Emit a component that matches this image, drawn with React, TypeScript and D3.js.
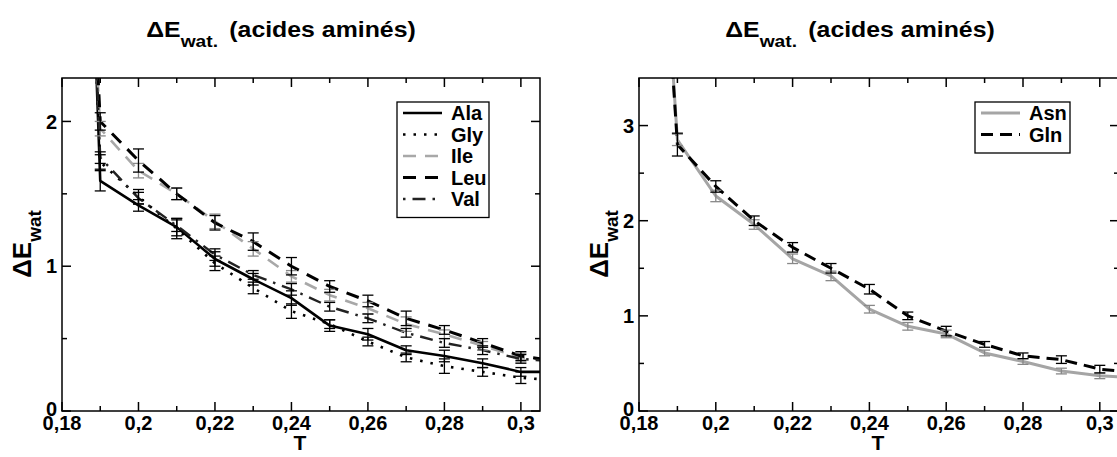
import React from 'react';
import * as d3 from 'd3';

// ---------- data ----------
const T = [0.18, 0.19, 0.2, 0.21, 0.22, 0.23, 0.24, 0.25, 0.26, 0.27, 0.28, 0.29, 0.3, 0.31];

const ala = [9.0, 1.59, 1.42, 1.27, 1.05, 0.91, 0.78, 0.59, 0.53, 0.42, 0.38, 0.33, 0.27, 0.27];
const alaErr = [0, 0.07, 0.04, 0.06, 0.05, 0.04, 0.05, 0.04, 0.04, 0.03, 0.04, 0.03, 0.03, 0];
const gly = [8.0, 1.72, 1.48, 1.26, 1.02, 0.85, 0.69, 0.6, 0.48, 0.37, 0.31, 0.27, 0.23, 0.21];
const glyErr = [0, 0.05, 0.05, 0.07, 0.05, 0.04, 0.05, 0.03, 0.03, 0.03, 0.05, 0.03, 0.04, 0];
const ile = [7.0, 1.95, 1.66, 1.5, 1.31, 1.12, 0.93, 0.8, 0.71, 0.6, 0.53, 0.45, 0.37, 0.35];
const ileErr = [0, 0.05, 0.05, 0.04, 0.05, 0.05, 0.04, 0.04, 0.04, 0.05, 0.03, 0.03, 0.03, 0];
const leu = [7.5, 2.0, 1.73, 1.5, 1.3, 1.17, 1.0, 0.86, 0.76, 0.64, 0.56, 0.47, 0.38, 0.34];
const leuErr = [0, 0.06, 0.08, 0.04, 0.05, 0.06, 0.06, 0.04, 0.04, 0.05, 0.03, 0.03, 0.03, 0];
const val = [8.0, 1.75, 1.47, 1.28, 1.08, 0.94, 0.84, 0.72, 0.64, 0.54, 0.47, 0.42, 0.36, 0.34];
const valErr = [0, 0.04, 0.04, 0.04, 0.04, 0.03, 0.04, 0.03, 0.03, 0.03, 0.03, 0.03, 0.03, 0];

const asn = [9.0, 2.85, 2.26, 1.96, 1.6, 1.42, 1.07, 0.89, 0.81, 0.61, 0.52, 0.42, 0.37, 0.35];
const asnErr = [0, 0.06, 0.06, 0.05, 0.05, 0.05, 0.04, 0.04, 0.04, 0.03, 0.03, 0.03, 0.03, 0];
const gln = [9.0, 2.8, 2.36, 2.0, 1.72, 1.5, 1.28, 1.0, 0.84, 0.7, 0.58, 0.54, 0.44, 0.4];
const glnErr = [0, 0.12, 0.06, 0.05, 0.05, 0.05, 0.05, 0.04, 0.05, 0.03, 0.03, 0.04, 0.04, 0];

const xMajor = [0.18, 0.2, 0.22, 0.24, 0.26, 0.28, 0.3];
const xLabels = ['0,18', '0,2', '0,22', '0,24', '0,26', '0,28', '0,3'];
const xMinor = [0.19, 0.21, 0.23, 0.25, 0.27, 0.29];
const yMajorL = [0, 1, 2];
const yLabelsL = ['0', '1', '2'];
const yMinorL = [0.5, 1.5];
const yMajorR = [0, 1, 2, 3];
const yLabelsR = ['0', '1', '2', '3'];
const yMinorR = [0.5, 1.5, 2.5];

const FONT = '"Liberation Sans", Arial, Helvetica, sans-serif';

type Series = { name: string; v: number[]; e: number[]; color: string; width: number; dash?: string };

const leftSeries: Series[] = [
  { name: 'Ala', v: ala, e: alaErr, color: '#000', width: 2.6 },
  { name: 'Gly', v: gly, e: glyErr, color: '#000', width: 2.6, dash: '2.5,8' },
  { name: 'Ile', v: ile, e: ileErr, color: '#a8a8a8', width: 2.6, dash: '13,9' },
  { name: 'Leu', v: leu, e: leuErr, color: '#000', width: 3, dash: '13,9' },
  { name: 'Val', v: val, e: valErr, color: '#222', width: 2.4, dash: '2.5,7,13,7' },
];
const rightSeries: Series[] = [
  { name: 'Asn', v: asn, e: asnErr, color: '#a5a5a5', width: 3 },
  { name: 'Gln', v: gln, e: glnErr, color: '#000', width: 3, dash: '12,7' },
];

type PanelProps = {
  id: string;
  x0: number; x1: number; y0: number; y1: number;
  xDomain: [number, number];
  yDomain: [number, number];
  yMajor: number[]; yLabels: string[]; yMinor: number[];
  series: Series[];
  legend: { x: number; y: number; w: number; rowH: number };
  titleX: number;
};

function Panel(p: PanelProps) {
  const x = d3.scaleLinear().domain(p.xDomain).range([p.x0, p.x1]);
  const y = d3.scaleLinear().domain(p.yDomain).range([p.y0, p.y1]);
  const line = d3.line<number>().x((_, i) => x(T[i])).y((d) => y(d));
  const pw = p.x1 - p.x0;
  const ph = p.y0 - p.y1;
  const MAJ = 9, MIN = 5;
  const legH = p.series.length * p.legend.rowH + 8;
  return (
    <g>
      <defs>
        <clipPath id={p.id}>
          <rect x={p.x0} y={p.y1} width={pw} height={ph} />
        </clipPath>
      </defs>
      {/* title */}
      <text transform={`translate(${p.titleX},37) scale(1.13,1)`} textAnchor="middle" fontFamily={FONT} fontWeight="bold" fontSize={22}>
        <tspan>ΔE</tspan>
        <tspan dy={10} fontSize={17}>wat.</tspan>
        <tspan dy={-10} dx={10}>(acides aminés)</tspan>
      </text>
      {/* series */}
      <g clipPath={`url(#${p.id})`}>
        {p.series.map((s) => (
          <path key={s.name} d={line(s.v) || ''} fill="none" stroke={s.color} strokeWidth={s.width} strokeDasharray={s.dash} strokeLinejoin="round" />
        ))}
        {p.series.map((s) =>
          s.v.map((v, i) =>
            s.e[i] > 0 ? (
              <g key={s.name + i} stroke={s.color === '#000' || s.color === '#222' ? '#000' : '#888'} strokeWidth={1.3}>
                <line x1={x(T[i])} x2={x(T[i])} y1={y(v - s.e[i])} y2={y(v + s.e[i])} />
                <line x1={x(T[i]) - 5.5} x2={x(T[i]) + 5.5} y1={y(v - s.e[i])} y2={y(v - s.e[i])} />
                <line x1={x(T[i]) - 5.5} x2={x(T[i]) + 5.5} y1={y(v + s.e[i])} y2={y(v + s.e[i])} />
              </g>
            ) : null
          )
        )}
      </g>
      {/* frame */}
      <rect x={p.x0} y={p.y1} width={pw} height={ph} fill="none" stroke="#000" strokeWidth={1.5} />
      {/* x ticks */}
      {xMajor.map((t, i) => (
        <g key={'xM' + i}>
          <line x1={x(t)} x2={x(t)} y1={p.y0} y2={p.y0 - MAJ} stroke="#000" strokeWidth={1.5} />
          <line x1={x(t)} x2={x(t)} y1={p.y1} y2={p.y1 + MAJ} stroke="#000" strokeWidth={1.5} />
          <text x={x(t)} y={p.y0 + 18.5} textAnchor="middle" fontFamily={FONT} fontWeight="bold" fontSize={20}>{xLabels[i]}</text>
        </g>
      ))}
      {xMinor.map((t, i) => (
        <g key={'xm' + i}>
          <line x1={x(t)} x2={x(t)} y1={p.y0} y2={p.y0 - MIN} stroke="#000" strokeWidth={1.5} />
          <line x1={x(t)} x2={x(t)} y1={p.y1} y2={p.y1 + MIN} stroke="#000" strokeWidth={1.5} />
        </g>
      ))}
      {/* y ticks */}
      {p.yMajor.map((v, i) => (
        <g key={'yM' + i}>
          <line x1={p.x0} x2={p.x0 + MAJ} y1={y(v)} y2={y(v)} stroke="#000" strokeWidth={1.5} />
          <line x1={p.x1} x2={p.x1 - MAJ} y1={y(v)} y2={y(v)} stroke="#000" strokeWidth={1.5} />
          <text x={p.x0 - 5} y={y(v) - (v === 0 ? 2 : 0)} dy="0.36em" textAnchor="end" fontFamily={FONT} fontWeight="bold" fontSize={20}>{p.yLabels[i]}</text>
        </g>
      ))}
      {p.yMinor.map((v, i) => (
        <g key={'ym' + i}>
          <line x1={p.x0} x2={p.x0 + MIN} y1={y(v)} y2={y(v)} stroke="#000" strokeWidth={1.5} />
          <line x1={p.x1} x2={p.x1 - MIN} y1={y(v)} y2={y(v)} stroke="#000" strokeWidth={1.5} />
        </g>
      ))}
      {/* axis labels */}
      <text x={(p.x0 + p.x1) / 2 - 1} y={450} textAnchor="middle" fontFamily={FONT} fontWeight="bold" fontSize={21}>T</text>
      <text transform={`translate(${p.x0 - 31},${244}) rotate(-90)`} textAnchor="middle" fontFamily={FONT} fontWeight="bold" fontSize={26}>
        <tspan>ΔE</tspan>
        <tspan dy={10} fontSize={19}>wat</tspan>
      </text>
      {/* legend */}
      <rect x={p.legend.x} y={p.legend.y} width={p.legend.w} height={legH} fill="#fff" stroke="#000" strokeWidth={1.3} />
      {p.series.map((s, i) => {
        const cy = p.legend.y + 11 + i * p.legend.rowH;
        return (
          <g key={'leg' + s.name}>
            <line x1={p.legend.x + 6} x2={p.legend.x + 45} y1={cy} y2={cy} stroke={s.color} strokeWidth={s.width} strokeDasharray={s.dash} />
            <text x={p.legend.x + 54} y={cy} dy="0.36em" fontFamily={FONT} fontWeight="bold" fontSize={20}>{s.name}</text>
          </g>
        );
      })}
    </g>
  );
}

export default function App() {
  return (
    <svg width={1117} height={457} style={{ position: 'absolute', left: 0, top: 0, background: '#fff' }}>
      <rect width={1117} height={457} fill="#fff" />
      <Panel
        id="clipL"
        x0={62} x1={540} y0={411} y1={78}
        xDomain={[0.18, 0.305]}
        yDomain={[0, 2.3]}
        yMajor={yMajorL} yLabels={yLabelsL} yMinor={yMinorL}
        series={leftSeries}
        legend={{ x: 397, y: 102, w: 92, rowH: 21.5 }}
        titleX={281}
      />
      <Panel
        id="clipR"
        x0={639} x1={1119} y0={411} y1={78}
        xDomain={[0.18, 0.305]}
        yDomain={[0, 3.5]}
        yMajor={yMajorR} yLabels={yLabelsR} yMinor={yMinorR}
        series={rightSeries}
        legend={{ x: 975, y: 102, w: 95, rowH: 21.5 }}
        titleX={860}
      />
    </svg>
  );
}
